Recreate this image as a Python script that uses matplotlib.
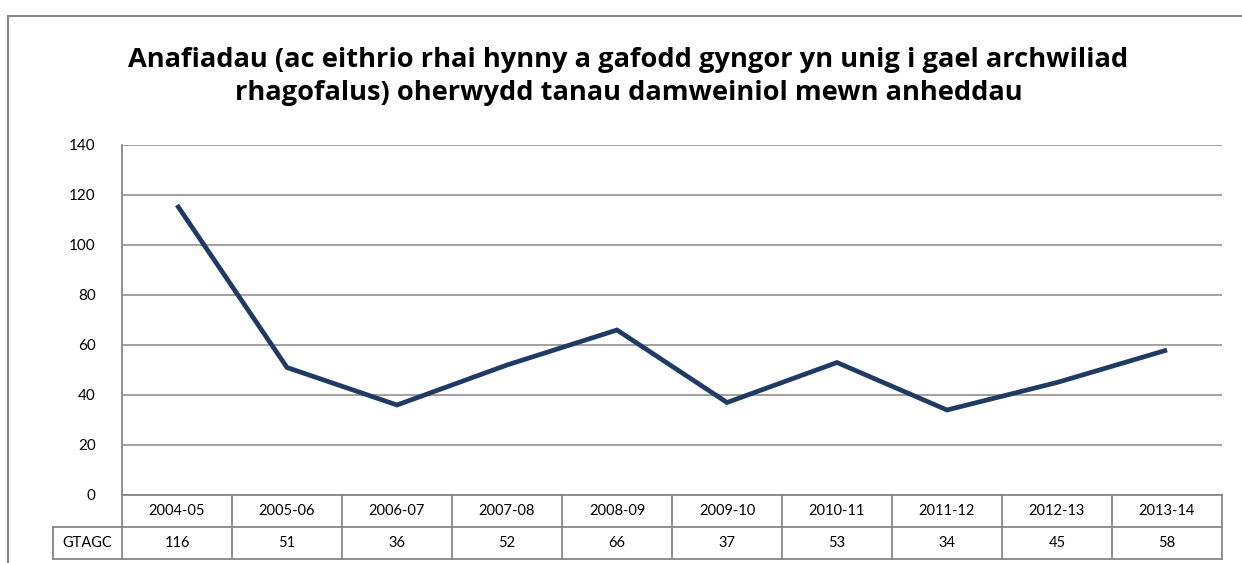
import matplotlib
matplotlib.use('Agg')
import matplotlib.pyplot as plt
from matplotlib.transforms import blended_transform_factory
from matplotlib.patches import Rectangle

years = ['2004-05', '2005-06', '2006-07', '2007-08', '2008-09',
         '2009-10', '2010-11', '2011-12', '2012-13', '2013-14']
gtagc = [116, 51, 36, 52, 66, 37, 53, 34, 45, 58]
series_name = 'GTAGC'
title = ('Anafiadau (ac eithrio rhai hynny a gafodd gyngor yn unig i gael archwiliad\n'
         'rhagofalus) oherwydd tanau damweiniol mewn anheddau')
yticks = [0, 20, 40, 60, 80, 100, 120, 140]

plt.rcParams['font.family'] = ['Lato', 'DejaVu Sans']
grey = '#878787'
navy = '#1f3b63'

fig = plt.figure(figsize=(12.42, 5.63), dpi=100)
# outer chart frame
fig.patches.append(Rectangle((8 / 1242, -0.1), 1.1, 1 - 16 / 563 + 0.1,
                             transform=fig.transFigure, fill=False,
                             edgecolor=grey, lw=1.5))

ax = fig.add_axes([122 / 1242, 68 / 563, 1100 / 1242, 350 / 563])
x = list(range(len(years)))
ax.plot(x, gtagc, color=navy, lw=3.4, solid_capstyle='butt', solid_joinstyle='miter')
ax.set_xlim(-0.5, len(years) - 0.5)
ax.set_ylim(0, 140)
ax.set_yticks(yticks)
ax.set_xticks([])
ax.tick_params(axis='y', length=0, pad=19, labelsize=11)
ax.grid(axis='y', color=grey, lw=1.1)
for s in ['top', 'right', 'bottom']:
    ax.spines[s].set_visible(False)
ax.spines['left'].set_color(grey)
ax.spines['left'].set_linewidth(1.3)

fig.text(0.506, 0.864, title, ha='center', va='center', fontsize=19.6,
         fontweight='bold', family=['Open Sans', 'DejaVu Sans'], linespacing=1.32)

# data table under the axis
tr = blended_transform_factory(ax.transData, ax.transAxes)
rh = 32 / 350
lab_left = -0.5 - 69 / 110
kw = dict(transform=tr, clip_on=False, color=grey, lw=1.3)
ax.plot([-0.5, len(years) - 0.5], [0, 0], **kw)
ax.plot([lab_left, len(years) - 0.5], [-rh, -rh], **kw)
ax.plot([lab_left, len(years) - 0.5], [-2 * rh, -2 * rh], **kw)
ax.plot([lab_left, lab_left], [-rh, -2 * rh], **kw)
for i in range(len(years) + 1):
    ax.plot([i - 0.5, i - 0.5], [0, -2 * rh], **kw)
for i, (yr, v) in enumerate(zip(years, gtagc)):
    ax.text(i, -rh / 2, yr, transform=tr, ha='center', va='center', fontsize=10.5)
    ax.text(i, -1.5 * rh, str(v), transform=tr, ha='center', va='center', fontsize=10.5)
ax.text((lab_left - 0.5) / 2, -1.5 * rh, series_name, transform=tr,
        ha='center', va='center', fontsize=10.5)

fig.savefig('out.png', dpi=100)
